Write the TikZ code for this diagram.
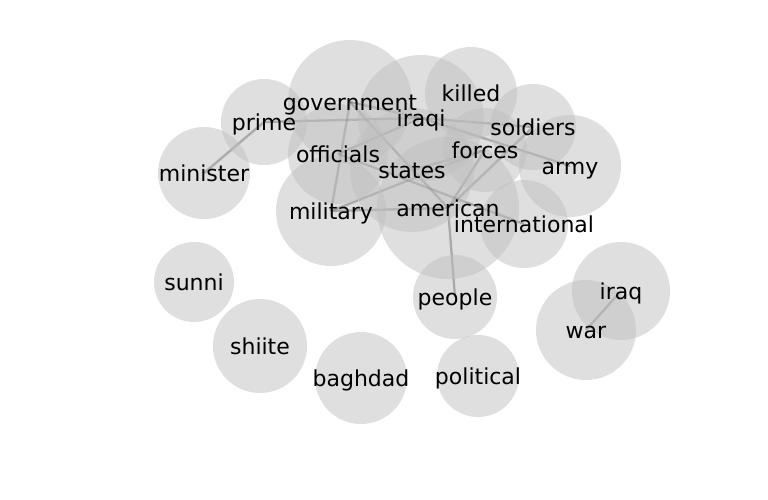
\documentclass[tikz,border=0pt]{standalone}
\usepackage{fontspec}
\setmainfont{DejaVu Sans}
\usetikzlibrary{backgrounds}

\begin{document}
\begin{tikzpicture}[x=1pt, y=-1pt]

\tikzset{disc/.style = {shape=circle, fill=gray!50, fill opacity=0.5, inner sep=0pt}}
\tikzset{word/.style = {inner sep=0pt, text height=16.7pt, text depth=5.3pt, yshift=-2.5pt,
  font=\fontsize{22}{26}\selectfont}}
\tikzset{link/.style = {draw=black, draw opacity=0.42, line width=2.3pt}}
\useasboundingbox (0,0) rectangle (768,500);
% circles
\node[disc, minimum size=124] (gov) at (350,102) {};
\node[disc, minimum size=126] (iqi) at (421,118) {};
\node[disc, minimum size=92]  (kil) at (471,93)  {};
\node[disc, minimum size=86]  (sol) at (533,127) {};
\node[disc, minimum size=102] (arm) at (570,166) {};
\node[disc, minimum size=84]  (frc) at (485,150) {};
\node[disc, minimum size=100] (off) at (338,154) {};
\node[disc, minimum size=124] (sta) at (412,170) {};
\node[disc, minimum size=110] (mil) at (331,211) {};
\node[disc, minimum size=142] (ame) at (448,208) {};
\node[disc, minimum size=88]  (int) at (524,224) {};
\node[disc, minimum size=86]  (pri) at (264,122) {};
\node[disc, minimum size=92]  (min) at (204,173) {};
\node[disc, minimum size=80]  (sun) at (194,282) {};
\node[disc, minimum size=94]  (shi) at (260,346) {};
\node[disc, minimum size=92]  (bag) at (361,378) {};
\node[disc, minimum size=82]  (pol) at (478,376) {};
\node[disc, minimum size=84]  (peo) at (455,297) {};
\node[disc, minimum size=98]  (irq) at (621,291) {};
\node[disc, minimum size=100] (war) at (586,330) {};
% words
\node[word] (gov-w) at (gov) {government};
\node[word] (iqi-w) at (iqi) {iraqi};
\node[word] (kil-w) at (kil) {killed};
\node[word] (sol-w) at (sol) {soldiers};
\node[word] (arm-w) at (arm) {army};
\node[word] (frc-w) at (frc) {forces};
\node[word] (off-w) at (off) {officials};
\node[word] (sta-w) at (sta) {states};
\node[word] (mil-w) at (mil) {military};
\node[word] (ame-w) at (ame) {american};
\node[word] (int-w) at (int) {international};
\node[word] (pri-w) at (pri) {prime};
\node[word] (min-w) at (min) {minister};
\node[word] (sun-w) at (sun) {sunni};
\node[word] (shi-w) at (shi) {shiite};
\node[word] (bag-w) at (bag) {baghdad};
\node[word] (pol-w) at (pol) {political};
\node[word] (peo-w) at (peo) {people};
\node[word] (irq-w) at (irq) {iraq};
\node[word] (war-w) at (war) {war};
% links
\begin{pgfonlayer}{background}
\draw[link] (pri.center) -- (min.center);
\draw[link] (pri.center) -- (iqi.center);
\draw[link] (gov.center) -- (mil.center);
\draw[link] (gov.center) -- (iqi.center);
\draw[link] (gov.center) -- (ame.center);
\draw[link] (off.center) -- (iqi.center);
\draw[link] (off.center) -- (int.center);
\draw[link] (mil.center) -- (frc.center);
\draw[link] (mil.center) -- (ame.center);
\draw[link] (sta.center) -- (frc.center);
\draw[link] (ame.center) -- (frc.center);
\draw[link] (ame.center) -- (sol.center);
\draw[link] (ame.center) -- (peo.center);
\draw[link] (iqi.center) -- (sol.center);
\draw[link] (iqi.center) -- (arm.center);
\draw[link] (irq.center) -- (war.center);
\end{pgfonlayer}
\end{tikzpicture}
\end{document}
